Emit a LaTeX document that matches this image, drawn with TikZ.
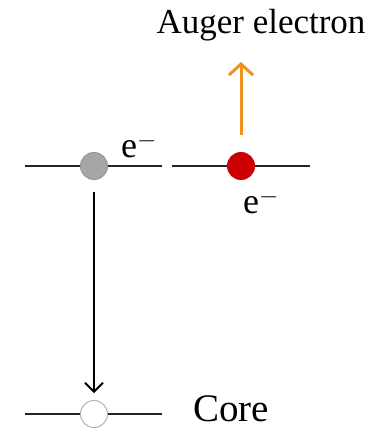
\documentclass[tikz,border=0pt]{standalone}
\usepackage{fontspec}
\setmainfont{Liberation Serif}
\usetikzlibrary{arrows.meta}
\definecolor{augor}{RGB}{240,145,30}
\definecolor{elgrey}{RGB}{166,166,166}
\definecolor{elred}{RGB}{204,0,0}
\begin{document}
\begin{tikzpicture}[x=1pt,y=-1pt,
  level/.style={line width=2pt,black!85},
  elec/.style={circle,minimum size=27pt,inner sep=0pt,line width=1pt},
  lbl/.style={inner sep=0pt,anchor=base west}]
\useasboundingbox (0,0) rectangle (381,429);
% levels
\draw[level] (25,166) -- (162,166);
\draw[level] (172,166) -- (310,166);
\draw[level] (25,414) -- (162,414);
% electrons
\node[elec,fill=elgrey,draw=elgrey!90!black] (g) at (94,166) {};
\node[elec,fill=elred,draw=elred] (r) at (241,166) {};
\node[elec,fill=white,draw=black!30] (h) at (94,414) {};
% labels
\node[lbl,font=\fontsize{36}{40}\selectfont] (e1) at (121,157) {e$^{-}$};
\node[lbl,font=\fontsize{36}{40}\selectfont] (e2) at (243,213) {e$^{-}$};
\node[inner sep=0pt,font=\fontsize{35}{40}\selectfont] (au) at (261,25) {Auger electron};
\node[lbl,font=\fontsize{39}{44}\selectfont] (core) at (193,421) {Core};
% arrows
\coordinate (ot) at (241,62);
\draw[augor,line width=3pt,-{Straight Barb[length=11pt,width=24pt,line width=3pt]}] (r.north) ++(0,-17) -- (ot);
\draw[black,line width=1.6pt,-{Straight Barb[length=9pt,width=18pt,line width=1.8pt]}] (g.south) ++(0,12) -- ([yshift=7pt]h.north);
\end{tikzpicture}
\end{document}
